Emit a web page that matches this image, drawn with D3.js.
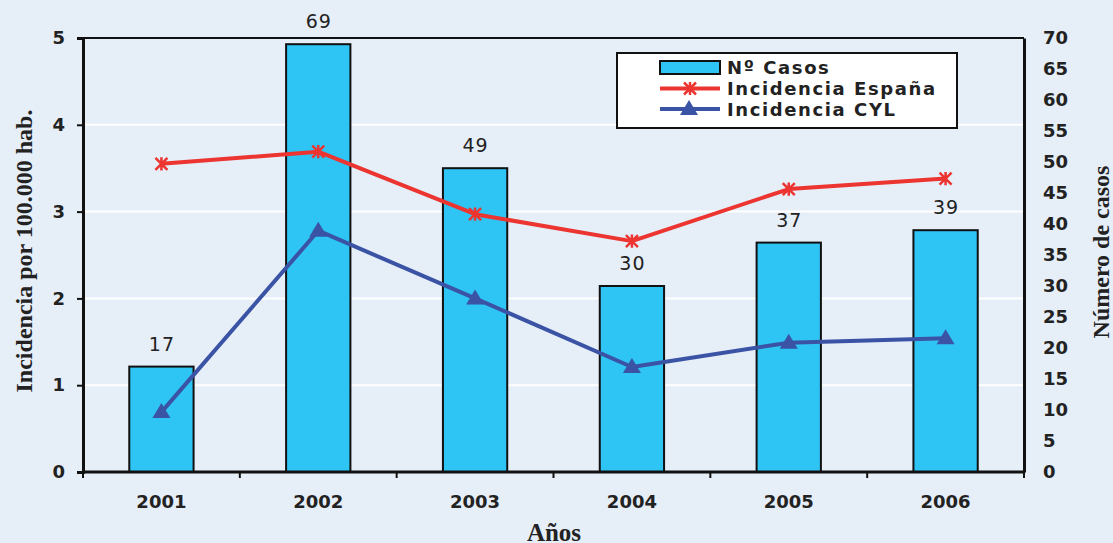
<!DOCTYPE html>
<html><head><meta charset="utf-8">
<script src="https://cdn.jsdelivr.net/npm/d3@7"></script>
<style>html,body{margin:0;padding:0;background:#e6eef8;}svg{display:block;}</style>
</head><body>
<svg id="c" width="1113" height="543"></svg>
<script>
const years = ["2001","2002","2003","2004","2005","2006"];
const casos = [17, 69, 49, 30, 37, 39];
const incEspana = [3.55, 3.69, 2.97, 2.66, 3.26, 3.38];
const incCYL = [0.69, 2.78, 2.0, 1.21, 1.49, 1.54];
const leftTicks = [0,1,2,3,4,5];
const rightTicks = d3.range(0, 75, 5);
const legendItems = ["Nº Casos","Incidencia España","Incidencia CYL"];

const svg = d3.select("#c");
const m = {l:83, r:1024, t:38, b:472};
const x = d3.scaleBand().domain(years).range([m.l, m.r]).paddingInner(0.59).paddingOuter(0.295);
const xc = d => x(d) + x.bandwidth()/2;
const yL = d3.scaleLinear().domain([0,5]).range([m.b, m.t]);
const yR = d3.scaleLinear().domain([0,70]).range([m.b, m.t]);
const tickFont = "bold 18px 'DejaVu Sans', Verdana, sans-serif";
const cBar = "#2ec4f4", cRed = "#ec3430", cBlue = "#3a53a4", ink = "#222";

// gridlines
svg.append("g").selectAll("line").data([1,2,3,4]).join("line")
  .attr("x1", m.l).attr("x2", m.r).attr("y1", d=>yL(d)).attr("y2", d=>yL(d))
  .attr("stroke", "#ffffff").attr("stroke-width", 2);

// top frame
svg.append("line").attr("x1", m.l).attr("x2", m.r).attr("y1", m.t).attr("y2", m.t).attr("stroke","#111").attr("stroke-width",2);

// bars
svg.append("g").selectAll("rect").data(casos).join("rect")
  .attr("x", (d,i)=>x(years[i])).attr("width", x.bandwidth())
  .attr("y", d=>yR(d)).attr("height", d=>m.b - yR(d))
  .attr("fill", cBar).attr("stroke", "#111").attr("stroke-width", 2);

// value labels
svg.append("g").selectAll("text").data(casos).join("text")
  .attr("x", (d,i)=>xc(years[i]) + 0.5).attr("y", d=>yR(d) - 16)
  .attr("text-anchor","middle").style("font","19px 'DejaVu Sans', Verdana, sans-serif")
  .style("letter-spacing","1px").attr("fill",ink)
  .text(d=>d);

// axes
const gl = svg.append("g").attr("transform", `translate(${m.l},0)`)
  .call(d3.axisLeft(yL).tickValues(leftTicks).tickFormat(d3.format("d")).tickSize(6).tickPadding(12));
const gr = svg.append("g").attr("transform", `translate(${m.r},0)`)
  .call(d3.axisRight(yR).tickValues(rightTicks).tickFormat(d3.format("d")).tickSize(0).tickPadding(19));
gr.selectAll("text").attr("text-anchor","start");
const gb = svg.append("g").attr("transform", `translate(0,${m.b})`)
  .call(d3.axisBottom(x).tickSize(0).tickPadding(23));
const sepPos = years.map(d => x(d) - x.step()*x.paddingInner()/2).slice(1);
sepPos.unshift(m.l); sepPos.push(m.r);
svg.append("g").selectAll("line").data(sepPos).join("line")
  .attr("x1", d=>d).attr("x2", d=>d).attr("y1", m.b).attr("y2", m.b+6)
  .attr("stroke","#111").attr("stroke-width",2);
[gl, gr, gb].forEach(g => {
  g.selectAll(".domain").attr("stroke","#111").attr("stroke-width",3);
  g.selectAll(".tick line").attr("stroke","#111").attr("stroke-width",2);
  g.selectAll("text").style("font", tickFont).attr("fill",ink);
});
gb.select(".domain").attr("d", `M${m.l},0H${m.r}`);

// lines
const line = d3.line().x((d,i)=>xc(years[i])).y(d=>yL(d));
svg.append("path").datum(incEspana).attr("d", line).attr("fill","none").attr("stroke",cRed).attr("stroke-width",4).attr("stroke-linejoin","round");
svg.append("path").datum(incCYL).attr("d", line).attr("fill","none").attr("stroke",cBlue).attr("stroke-width",4).attr("stroke-linejoin","round");

function star(g, cx, cy, s, col) {
  const p = `M${cx-s},${cy-s}L${cx+s},${cy+s}M${cx-s},${cy+s}L${cx+s},${cy-s}M${cx},${cy-s*1.1}L${cx},${cy+s*1.1}`;
  g.append("path").attr("d", p).attr("stroke", col).attr("stroke-width", 2.5).attr("fill","none");
}
function tri(g, cx, cy, col) {
  g.append("path").attr("d", `M${cx},${cy-9}L${cx+9},${cy+6}L${cx-9},${cy+6}Z`).attr("fill", col);
}
const mk = svg.append("g");
incEspana.forEach((d,i)=>star(mk, xc(years[i]), yL(d), 6, cRed));
incCYL.forEach((d,i)=>tri(mk, xc(years[i]), yL(d), cBlue));

// axis titles
const serif = "bold 24px 'Liberation Serif', 'Times New Roman', serif";
svg.append("text").attr("transform","translate(32,251) rotate(-90)").attr("text-anchor","middle")
  .style("font", serif).attr("fill",ink).text("Incidencia por 100.000 hab.");
svg.append("text").attr("transform","translate(1109,252) rotate(-90)").attr("text-anchor","middle")
  .style("font", serif).attr("fill",ink).text("Número de casos");
svg.append("text").attr("x", 554).attr("y", 541).attr("text-anchor","middle")
  .style("font", "bold 25px 'Liberation Serif', 'Times New Roman', serif").attr("fill",ink).text("Años");

// legend
const lg = svg.append("g");
lg.append("rect").attr("x",617).attr("y",53).attr("width",340).attr("height",75).attr("fill","#fff").attr("stroke","#111").attr("stroke-width",2);
const lf = "bold 18px 'DejaVu Sans', Verdana, sans-serif";
const rowY = [67.5, 88.5, 109];
legendItems.forEach((t,i)=>{
  const cy = rowY[i];
  if (i===0) lg.append("rect").attr("x",660).attr("y",cy-6.5).attr("width",60).attr("height",13).attr("fill",cBar).attr("stroke","#111").attr("stroke-width",2);
  else {
    const col = i===1 ? cRed : cBlue;
    lg.append("line").attr("x1",660).attr("x2",720).attr("y1",cy).attr("y2",cy).attr("stroke",col).attr("stroke-width",4);
    if (i===1) star(lg, 690, cy, 6, col); else tri(lg, 689, cy, col);
  }
  lg.append("text").attr("x",727).attr("y",cy+6.5).style("font", lf).style("letter-spacing","1.6px").attr("fill",ink).text(t);
});
</script>
</body></html>
